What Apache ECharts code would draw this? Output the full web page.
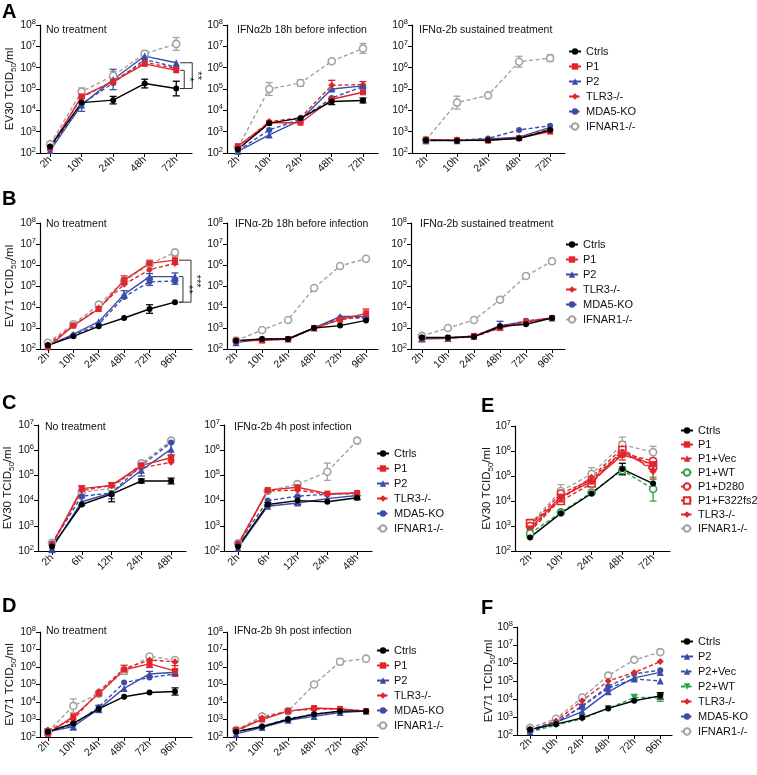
<!DOCTYPE html>
<html><head><meta charset="utf-8">
<script src="https://cdn.jsdelivr.net/npm/echarts@6/dist/echarts.min.js"></script>
<style>html,body{margin:0;padding:0;background:#fff}#c{width:757px;height:775px}</style>
</head><body><div id="c"></div><script>
// ---------- categories ----------
const catsA = ['2h','10h','24h','48h','72h'];
const catsB = ['2h','10h','24h','48h','72h','96h'];
const catsC = ['2h','6h','12h','24h','48h'];

// ---------- Panel A (EV30) ----------
const a1Ctrls = [200, 2.3e4, 3e4, 1.8e5, 1.05e5];
const a1P1    = [170, 4.5e4, 2.2e5, 1.5e6, 7.5e5];
const a1P2    = [130, 1.8e4, 2.8e5, 3.5e6, 1.7e6];
const a1TLR3  = [190, 4e4, 2.4e5, 1.8e6, 9e5];
const a1MDA5  = [160, 2e4, 1.9e5, 2.4e6, 1.05e6];
const a1IFNAR = [260, 7.5e4, 4.2e5, 4.5e6, 1.3e7];
const a1ErrCtrls = [0, 0, 1.5, 1.6, 2.2];
const a1ErrP2    = [0, 2, 3, 0, 0];
const a1ErrIFNAR = [0, 1.5, 1.6, 1.4, 2];

const a2Ctrls = [150, 2.5e3, 4.3e3, 2.6e4, 2.9e4];
const a2P1    = [210, 2.6e3, 2.6e3, 3.3e4, 7e4];
const a2P2    = [120, 700, 3.5e3, 1e5, 1.4e5];
const a2TLR3  = [190, 3e3, 4.4e3, 1.5e5, 1.6e5];
const a2MDA5  = [130, 1.2e3, 3.8e3, 3.8e4, 1.3e5];
const a2IFNAR = [180, 1e5, 1.9e5, 2e6, 8e6];
const a2ErrIFNAR = [0, 2, 1.4, 1.2, 1.7];
const a2ErrCtrls = [0, 0, 0, 1.4, 1.3];
const a2ErrTLR3  = [0, 0, 0, 1.7, 1.4];

const a3Ctrls = [400, 380, 400, 480, 1.2e3];
const a3P1    = [420, 400, 380, 500, 1e3];
const a3P2    = [380, 380, 450, 550, 1.6e3];
const a3TLR3  = [420, 420, 420, 500, 1.3e3];
const a3MDA5  = [380, 400, 480, 1.2e3, 1.9e3];
const a3IFNAR = [400, 2.3e4, 5e4, 1.9e6, 2.8e6];
const a3ErrIFNAR = [0, 2, 0, 1.8, 1.4];

// ---------- Panel B (EV71) ----------
const b1Ctrls = [150, 400, 1.2e3, 3e3, 8e3, 1.7e4];
const b1P1    = [120, 1.3e3, 8e3, 1.9e5, 1.2e6, 1.7e6];
const b1P2    = [150, 500, 2e3, 4e4, 2.8e5, 2.8e5];
const b1TLR3  = [160, 1.3e3, 9e3, 1.2e5, 6e5, 1.2e6];
const b1MDA5  = [150, 450, 1.5e3, 3e4, 1.6e5, 1.7e5];
const b1IFNAR = [200, 1.5e3, 1.3e4, 1.7e5, 1.1e6, 4e6];
const b1ErrCtrls = [0, 0, 0, 0, 1.6, 0];
const b1ErrP1    = [0, 0, 0, 1.6, 1.4, 1.6];
const b1ErrP2    = [0, 0, 0, 1.5, 1.4, 1.5];
const b1ErrMDA5  = [0, 0, 0, 0, 1.5, 1.4];

const b2Ctrls = [250, 300, 300, 1e3, 1.3e3, 2.3e3];
const b2P1    = [250, 250, 300, 1e3, 2.5e3, 5e3];
const b2P2    = [200, 300, 300, 1e3, 3.5e3, 3.5e3];
const b2TLR3  = [250, 280, 280, 1e3, 2.5e3, 3.5e3];
const b2MDA5  = [220, 300, 300, 1e3, 3e3, 3e3];
const b2IFNAR = [250, 800, 2.4e3, 8e4, 9e5, 2e6];
const b2ErrP1 = [0, 0, 0, 0, 0, 1.6];

const b3Ctrls = [350, 350, 380, 1.2e3, 1.5e3, 3e3];
const b3P1    = [330, 330, 420, 1e3, 2e3, 3e3];
const b3P2    = [300, 320, 400, 1.3e3, 2e3, 3e3];
const b3TLR3  = [350, 330, 380, 1e3, 2e3, 3e3];
const b3MDA5  = [320, 330, 420, 1.2e3, 2.2e3, 3e3];
const b3IFNAR = [420, 1e3, 2.4e3, 2.2e4, 3e5, 1.5e6];
const b3ErrP2    = [1.3, 0, 0, 1.6, 0, 0];
const b3ErrIFNAR = [0, 0, 0, 1.3, 1.2, 1.3];

// ---------- Panel C (EV30) ----------
const c1Ctrls = [150, 7e3, 1.8e4, 6e4, 6e4];
const c1P1    = [170, 3e4, 4e4, 2.5e5, 5e5];
const c1P2    = [130, 9e3, 2e4, 1.6e5, 1.1e6];
const c1TLR3  = [170, 2.5e4, 4e4, 2e5, 3.3e5];
const c1MDA5  = [200, 1.5e4, 2e4, 2.5e5, 2e6];
const c1IFNAR = [210, 2.2e4, 3e4, 3e5, 2.4e6];
const c1ErrCtrls = [0, 0, 2, 1.2, 1.3];
const c1ErrP2    = [1.5, 1.4, 1.7, 1.7, 1.8];
const c1ErrP1    = [0, 1.3, 1.3, 0, 1.3];

const c2Ctrls = [150, 7e3, 1e4, 9e3, 1.3e4];
const c2P1    = [180, 2.6e4, 3.4e4, 1.9e4, 2e4];
const c2P2    = [130, 6e3, 8e3, 1.2e4, 1.6e4];
const c2TLR3  = [170, 2.4e4, 2.6e4, 1.8e4, 2e4];
const c2MDA5  = [200, 1e4, 1.5e4, 1.8e4, 1.9e4];
const c2IFNAR = [200, 2.4e4, 4.5e4, 1.4e5, 2.4e6];
const c2ErrIFNAR = [0, 0, 0, 2.2, 1.2];
const c2ErrCtrls = [0, 1.2, 1.4, 0, 1.2];

// ---------- Panel E (EV30 complementation) ----------
const eCtrls  = [350, 3.2e3, 2e4, 1.9e5, 5e4];
const eP1     = [800, 1.5e4, 6e4, 7e5, 3e5];
const eP1Vec  = [600, 1.2e4, 8e4, 9e5, 2e5];
const eP1WT   = [500, 3.5e3, 2.2e4, 1.7e5, 3e4];
const eP1D280 = [1e3, 2e4, 7e4, 8e5, 4e5];
const eP1F322 = [1.3e3, 1e4, 5e4, 1.1e6, 2.5e5];
const eTLR3   = [700, 1.3e4, 9e4, 1.3e6, 1.5e5];
const eIFNAR  = [1.2e3, 2.5e4, 1.2e5, 1.8e6, 9e5];
const eErrCtrls = [0, 0, 0, 1.7, 0];
const eErrWT    = [1.4, 0, 0, 1.4, 3];
const eErrIFNAR = [1.5, 1.8, 1.8, 2, 1.7];
const eErrTLR3  = [1.8, 1.6, 1.5, 1.8, 2];
const eErrP1    = [0, 2, 1.5, 1.6, 1.6];

// ---------- Panel D (EV71) ----------
const d1Ctrls = [200, 600, 4e3, 2e4, 3.5e4, 4e4];
const d1P1    = [150, 1.5e3, 3e4, 7e5, 1.5e6, 6e5];
const d1P2    = [200, 400, 4e3, 6e4, 4e5, 5e5];
const d1TLR3  = [250, 1e3, 4e4, 8e5, 2.5e6, 2e6];
const d1MDA5  = [200, 500, 5e3, 1.3e5, 2.5e5, 4e5];
const d1IFNAR = [200, 6e3, 3e4, 6e5, 4e6, 2.5e6];
const d1ErrCtrls = [0, 0, 0, 0, 0, 1.6];
const d1ErrP1    = [0, 0, 0, 1.8, 1.6, 2];
const d1ErrIFNAR = [0, 2.5, 0, 0, 1.3, 1.3];
const d1ErrP2    = [1.5, 1.6, 1.6, 0, 1.4, 1.4];

const d2Ctrls = [200, 400, 1e3, 2e3, 3e3, 3e3];
const d2P1    = [250, 1e3, 3e3, 4.5e3, 4e3, 3e3];
const d2P2    = [150, 350, 900, 1.5e3, 2.5e3, 3e3];
const d2TLR3  = [200, 1.2e3, 3e3, 4e3, 4e3, 3e3];
const d2MDA5  = [200, 400, 1.1e3, 2e3, 3e3, 3e3];
const d2IFNAR = [250, 1.5e3, 3e3, 1e5, 2e6, 3e6];
const d2ErrIFNAR = [0, 1.3, 0, 1.2, 1.5, 0];

// ---------- Panel F (EV71 complementation) ----------
const fCtrls = [200, 400, 900, 3e3, 8e3, 1.5e4];
const fP2    = [200, 500, 2e3, 2.5e4, 1.5e5, 3e5];
const fP2Vec = [150, 500, 4e3, 4e4, 1.3e5, 1e5];
const fP2WT  = [150, 350, 800, 3e3, 1.2e4, 1.2e4];
const fTLR3  = [200, 600, 8e3, 1e5, 3e5, 1.2e6];
const fMDA5  = [200, 500, 4e3, 5e4, 2.5e5, 4e5];
const fIFNAR = [250, 800, 1.2e4, 2e5, 1.5e6, 4e6];
const fErrWT = [0, 0, 0, 0, 1.5, 1.6];
const fErrP2 = [0, 0, 2.5, 0, 0, 0];
const fErrCtrls = [0, 0, 0, 0, 0, 1.5];

// significance brackets [upper value, lower value, stars]
const a1Brackets = [[1.7e6, 1.05e5, '**'], [7.5e5, 1.05e5, '*']];
const b1Brackets = [[1.7e6, 1.7e4, '***'], [2.8e5, 1.7e4, '**']];

// ---------- styles ----------
const RED = '#E0262B', BLUE = '#3B4DA8', GRAY = '#A3A3A3', GREEN = '#2CA54A', BLACK = '#000';
const DASH = [4, 2.5];
const STY = {
  'Ctrls':       {color: BLACK, symbol: 'circle', size: 6},
  'P1':          {color: RED, symbol: 'rect', size: 6},
  'P2':          {color: BLUE, symbol: 'triangle', size: 7},
  'TLR3-/-':     {color: RED, dash: true, symbol: 'diamond', size: 7},
  'MDA5-KO':     {color: BLUE, dash: true, symbol: 'circle', size: 6},
  'IFNAR1-/-':   {color: GRAY, dash: true, symbol: 'circle', size: 7, hollow: true},
  'P1+Vec':      {color: RED, dash: true, symbol: 'triangle', size: 7},
  'P1+WT':       {color: GREEN, dash: true, symbol: 'circle', size: 7, hollow: true},
  'P1+D280':     {color: RED, dash: true, symbol: 'circle', size: 7, hollow: true},
  'P1+F322fs2*': {color: RED, dash: true, symbol: 'rect', size: 7, hollow: true},
  'P2+Vec':      {color: BLUE, dash: true, symbol: 'triangle', size: 7},
  'P2+WT':       {color: GREEN, dash: true, symbol: 'triangle', size: 7, rot: 180}
};
const FONT = '"Liberation Sans", Arial, Helvetica, sans-serif';

const L6 = ['Ctrls','P1','P2','TLR3-/-','MDA5-KO','IFNAR1-/-'];
// grid = axis-line box; xr = x-axis extent in category units
const panels = [
  {cats: catsA, ymax: 8, grid: {left: 40, top: 25, width: 152, height: 128}, xr: [-0.32, 4.5], yname: 'EV30',
   title: 'No treatment', tpos: [46, 25],
   s: [['IFNAR1-/-', a1IFNAR, a1ErrIFNAR], ['MDA5-KO', a1MDA5], ['TLR3-/-', a1TLR3], ['P2', a1P2, a1ErrP2], ['P1', a1P1], ['Ctrls', a1Ctrls, a1ErrCtrls]],
   brackets: a1Brackets},
  {cats: catsA, ymax: 8, grid: {left: 227, top: 25, width: 151, height: 128}, xr: [-0.35, 4.48],
   title: 'IFN\u03b12b 18h before infection', tpos: [237, 25],
   s: [['IFNAR1-/-', a2IFNAR, a2ErrIFNAR], ['MDA5-KO', a2MDA5], ['TLR3-/-', a2TLR3, a2ErrTLR3], ['P2', a2P2], ['P1', a2P1], ['Ctrls', a2Ctrls, a2ErrCtrls]]},
  {cats: catsA, ymax: 8, grid: {left: 412, top: 25, width: 153, height: 128}, xr: [-0.45, 4.48],
   title: 'IFN\u03b1-2b sustained treatment', tpos: [419, 25],
   s: [['IFNAR1-/-', a3IFNAR, a3ErrIFNAR], ['MDA5-KO', a3MDA5], ['TLR3-/-', a3TLR3], ['P2', a3P2], ['P1', a3P1], ['Ctrls', a3Ctrls]],
   legend: {left: 568, top: 45, data: L6}},
  {cats: catsB, ymax: 8, grid: {left: 40, top: 223, width: 152, height: 126}, xr: [-0.31, 5.67], yname: 'EV71',
   title: 'No treatment', tpos: [46, 219],
   s: [['IFNAR1-/-', b1IFNAR], ['MDA5-KO', b1MDA5, b1ErrMDA5], ['TLR3-/-', b1TLR3], ['P2', b1P2, b1ErrP2], ['P1', b1P1, b1ErrP1], ['Ctrls', b1Ctrls, b1ErrCtrls]],
   brackets: b1Brackets},
  {cats: catsB, ymax: 8, grid: {left: 227, top: 223, width: 151, height: 126}, xr: [-0.35, 5.46],
   title: 'IFN\u03b1-2b 18h before infection', tpos: [235, 219],
   s: [['IFNAR1-/-', b2IFNAR], ['MDA5-KO', b2MDA5], ['TLR3-/-', b2TLR3], ['P2', b2P2], ['P1', b2P1, b2ErrP1], ['Ctrls', b2Ctrls]]},
  {cats: catsB, ymax: 8, grid: {left: 411, top: 223, width: 154, height: 126}, xr: [-0.42, 5.5],
   title: 'IFN\u03b1-2b sustained treatment', tpos: [420, 219],
   s: [['IFNAR1-/-', b3IFNAR, b3ErrIFNAR], ['MDA5-KO', b3MDA5], ['TLR3-/-', b3TLR3], ['P2', b3P2, b3ErrP2], ['P1', b3P1], ['Ctrls', b3Ctrls]],
   legend: {left: 565, top: 238, data: L6}},
  {cats: catsC, ymax: 7, grid: {left: 38, top: 425, width: 148, height: 126}, xr: [-0.47, 4.5], yname: 'EV30',
   title: 'No treatment', tpos: [45, 422],
   s: [['IFNAR1-/-', c1IFNAR], ['MDA5-KO', c1MDA5], ['TLR3-/-', c1TLR3], ['P2', c1P2, c1ErrP2], ['P1', c1P1, c1ErrP1], ['Ctrls', c1Ctrls, c1ErrCtrls]]},
  {cats: catsC, ymax: 7, grid: {left: 224, top: 425, width: 148, height: 126}, xr: [-0.47, 4.5],
   title: 'IFN\u03b1-2b 4h post infection', tpos: [234, 422],
   s: [['IFNAR1-/-', c2IFNAR, c2ErrIFNAR], ['MDA5-KO', c2MDA5], ['TLR3-/-', c2TLR3], ['P2', c2P2], ['P1', c2P1], ['Ctrls', c2Ctrls, c2ErrCtrls]],
   legend: {left: 376, top: 447, data: L6}},
  {cats: catsA, ymax: 7, grid: {left: 515, top: 426, width: 155, height: 125}, xr: [-0.49, 4.55], yname: 'EV30',
   s: [['IFNAR1-/-', eIFNAR, eErrIFNAR], ['TLR3-/-', eTLR3, eErrTLR3], ['P1+F322fs2*', eP1F322], ['P1+D280', eP1D280], ['P1+Vec', eP1Vec], ['P1', eP1, eErrP1], ['P1+WT', eP1WT, eErrWT], ['Ctrls', eCtrls, eErrCtrls]],
   legend: {left: 680, top: 424, gap: 1, data: ['Ctrls','P1','P1+Vec','P1+WT','P1+D280','P1+F322fs2*','TLR3-/-','IFNAR1-/-']}},
  {cats: catsB, ymax: 8, grid: {left: 40, top: 632, width: 152, height: 105}, xr: [-0.31, 5.67], yname: 'EV71',
   title: 'No treatment', tpos: [46, 626],
   s: [['IFNAR1-/-', d1IFNAR, d1ErrIFNAR], ['MDA5-KO', d1MDA5], ['TLR3-/-', d1TLR3], ['P2', d1P2, d1ErrP2], ['P1', d1P1, d1ErrP1], ['Ctrls', d1Ctrls, d1ErrCtrls]]},
  {cats: catsB, ymax: 8, grid: {left: 227, top: 632, width: 151, height: 105}, xr: [-0.35, 5.46],
   title: 'IFN\u03b1-2b 9h post infection', tpos: [234, 626],
   s: [['IFNAR1-/-', d2IFNAR, d2ErrIFNAR], ['MDA5-KO', d2MDA5], ['TLR3-/-', d2TLR3], ['P2', d2P2], ['P1', d2P1], ['Ctrls', d2Ctrls]],
   legend: {left: 376, top: 644, data: L6}},
  {cats: catsB, ymax: 8, grid: {left: 517, top: 627, width: 155, height: 108}, xr: [-0.5, 5.45], yname: 'EV71',
   s: [['IFNAR1-/-', fIFNAR], ['MDA5-KO', fMDA5], ['TLR3-/-', fTLR3], ['P2+WT', fP2WT, fErrWT], ['P2+Vec', fP2Vec], ['P2', fP2, fErrP2], ['Ctrls', fCtrls, fErrCtrls]],
   legend: {left: 680, top: 635, data: ['Ctrls','P2','P2+Vec','P2+WT','TLR3-/-','MDA5-KO','IFNAR1-/-']}}
];

const grids = [], xAxes = [], yAxes = [], series = [], legends = [], titles = [];
const axisTextBase = {color: '#111', fontFamily: FONT};
panels.forEach((p, gi) => {
  grids.push(Object.assign({outerBoundsMode: 'none', containLabel: false}, p.grid));
  const idx = p.cats.map((c, i) => i);
  const cats = p.cats;
  xAxes.push({type: 'value', gridIndex: gi, min: p.xr[0], max: p.xr[1],
    axisLine: {show: true, onZero: false, lineStyle: {color: '#000', width: 1.2}},
    axisTick: {show: true, length: 4, customValues: idx, lineStyle: {color: '#000', width: 1}},
    axisLabel: Object.assign({rotate: 45, fontSize: 10.5, margin: 5, customValues: idx,
      formatter: v => cats[Math.round(v)]}, axisTextBase),
    splitLine: {show: false}});
  const y = {type: 'log', logBase: 10, gridIndex: gi, min: 100, max: Math.pow(10, p.ymax),
    axisLine: {show: true, onZero: false, lineStyle: {color: '#000', width: 1.2}},
    axisTick: {show: true, length: 4, lineStyle: {color: '#000', width: 1}},
    splitLine: {show: false}, minorTick: {show: false},
    axisLabel: {margin: 4, formatter: v => '{b|10}{e|' + Math.round(Math.log10(v)) + '}',
      rich: {b: {fontSize: 10.5, lineHeight: 14, color: '#111', fontFamily: FONT},
             e: {fontSize: 7.5, lineHeight: 8, verticalAlign: 'top', color: '#111', fontFamily: FONT}}}};
  if (p.yname) {
    y.name = '{n|' + p.yname + ' TCID}{s|50}{n|/ml}';
    y.nameLocation = 'middle'; y.nameRotate = 90; y.nameMoveOverlap = false;
    y.nameGap = p.grid.left > 400 ? 20 : 22;
    y.nameTextStyle = {rich: {n: {fontSize: 11.5, lineHeight: 16, color: '#111', fontFamily: FONT},
                              s: {fontSize: 8, lineHeight: 8, verticalAlign: 'bottom', color: '#111', fontFamily: FONT}}};
  }
  yAxes.push(y);
  p.s.forEach(([name, data, err]) => {
    const st = STY[name];
    if (err) {
      const pts = [];
      data.forEach((v, i) => { if (err[i]) pts.push([i, v / err[i], v * err[i]]); });
      series.push({type: 'custom', name: name + ' err', xAxisIndex: gi, yAxisIndex: gi, data: pts,
        encode: {x: 0, y: [1, 2]}, silent: true, animation: false, z: 2,
        renderItem: (params, api) => {
          const lo = api.coord([api.value(0), api.value(1)]);
          const hi = api.coord([api.value(0), api.value(2)]);
          const w = 3.5, sty = {stroke: st.color, lineWidth: 1.3};
          return {type: 'group', children: [
            {type: 'line', shape: {x1: lo[0], y1: lo[1], x2: hi[0], y2: hi[1]}, style: sty},
            {type: 'line', shape: {x1: lo[0] - w, y1: lo[1], x2: lo[0] + w, y2: lo[1]}, style: sty},
            {type: 'line', shape: {x1: hi[0] - w, y1: hi[1], x2: hi[0] + w, y2: hi[1]}, style: sty}]};
        }});
    }
    series.push({type: 'line', name: name, xAxisIndex: gi, yAxisIndex: gi, data: data.map((v, i) => [i, v]),
      symbol: st.symbol, symbolSize: st.size, symbolRotate: st.rot || 0, showAllSymbol: true,
      lineStyle: {color: st.color, width: 1.4, type: st.dash ? DASH : 'solid'},
      itemStyle: {color: st.hollow ? '#fff' : st.color, borderColor: st.color, borderWidth: st.hollow ? 1.6 : 0},
      emphasis: {disabled: true}, animation: false, z: 3});
  });
  if (p.legend) {
    legends.push({orient: 'vertical', left: p.legend.left, top: p.legend.top, padding: 0, itemWidth: 12, itemHeight: 8,
      itemGap: p.legend.gap !== undefined ? p.legend.gap : 2, selectedMode: false, data: p.legend.data,
      textStyle: {fontSize: 11, lineHeight: 13, color: '#111', fontFamily: FONT}});
  }
  if (p.title) {
    titles.push({text: p.title, left: p.tpos[0], top: p.tpos[1], padding: 0,
      textStyle: {fontSize: 10.5, fontWeight: 'normal', color: '#111', fontFamily: FONT}});
  }
});
const letters = [['A', 2, 2], ['B', 2, 189], ['C', 2, 393], ['D', 2, 596], ['E', 481, 396], ['F', 481, 598]];
letters.forEach(([t, x, yy]) => titles.push({text: t, left: x, top: yy, padding: 0,
  textStyle: {fontSize: 20, fontWeight: 'bold', color: '#000', fontFamily: FONT}}));

const chart = echarts.init(document.getElementById('c'), null, {renderer: 'canvas'});
chart.setOption({backgroundColor: '#fff', animation: false, title: titles, grid: grids, xAxis: xAxes, yAxis: yAxes,
  legend: legends, series: series});

// significance brackets positioned through the axes
const gfx = [];
panels.forEach((p, gi) => {
  if (!p.brackets) return;
  const last = p.cats.length - 1;
  p.brackets.forEach(([hiV, loV, stars], k) => {
    const top = chart.convertToPixel({xAxisIndex: gi, yAxisIndex: gi}, [last, hiV]);
    const bot = chart.convertToPixel({xAxisIndex: gi, yAxisIndex: gi}, [last, loV]);
    const x0 = top[0] + 4, x1 = top[0] + (k === 0 ? 16 : 8);
    gfx.push({type: 'polyline', shape: {points: [[x0, top[1]], [x1, top[1]], [x1, bot[1]], [x0, bot[1]]]},
      style: {stroke: '#333', lineWidth: 1, fill: null}, z: 10});
    gfx.push({type: 'text', x: x1 + 5, y: (top[1] + bot[1]) / 2, rotation: -Math.PI / 2,
      style: {text: stars, fontSize: 11, fill: '#111', font: '11px ' + FONT, align: 'center', verticalAlign: 'middle'}, z: 10});
  });
});
chart.setOption({graphic: gfx});
</script></body></html>
